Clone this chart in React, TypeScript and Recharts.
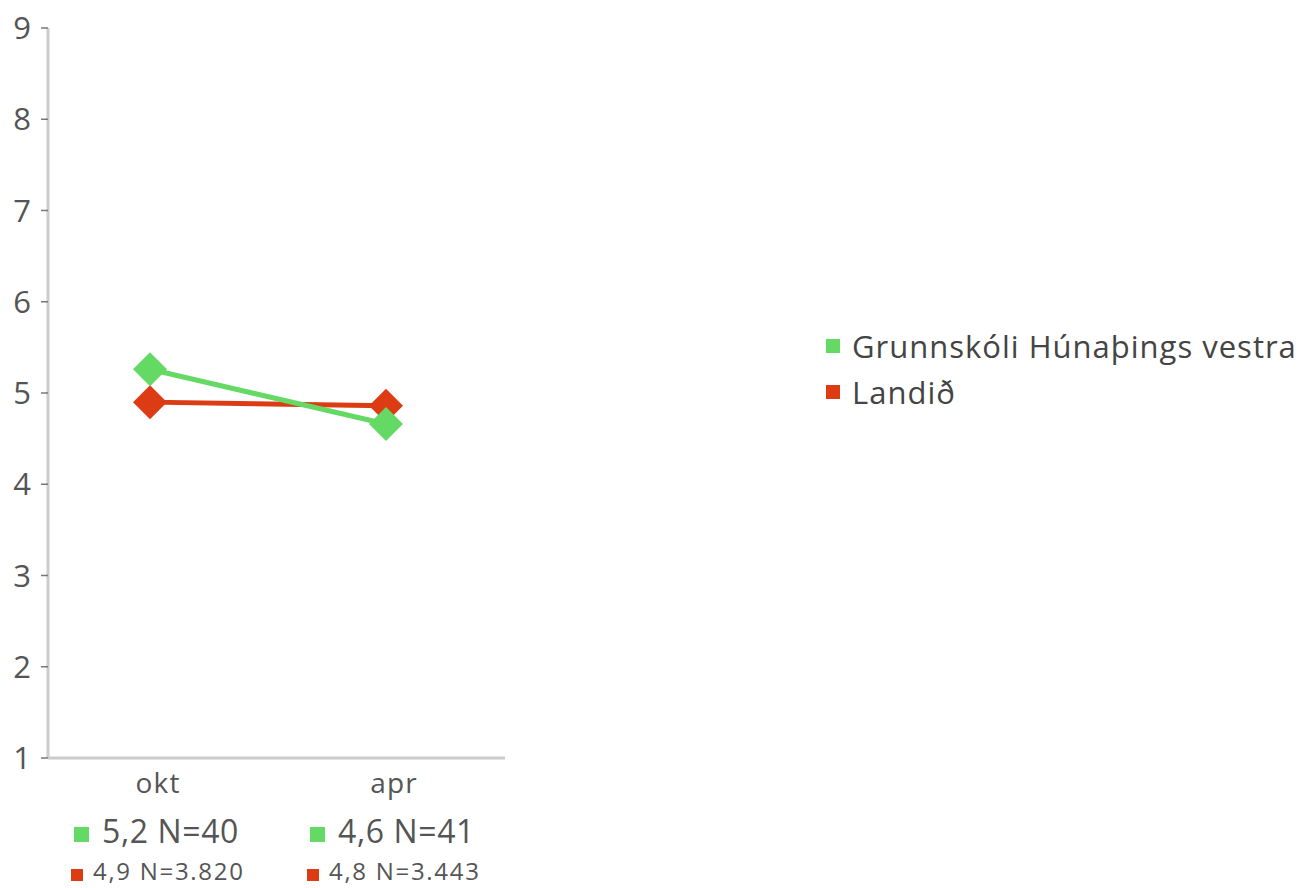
import { LineChart, Line, XAxis, YAxis } from 'recharts';

// survey rounds
const CATEGORIES = ['okt', 'apr'];

// mean score per round
const SCHOOL_VALUES = [5.26, 4.66];
const NATIONAL_VALUES = [4.9, 4.86];

// labels printed under each round
const SCHOOL_MEAN_LABELS = ['5,2', '4,6'];
const SCHOOL_N = ['40', '41'];
const NATIONAL_MEAN_LABELS = ['4,9', '4,8'];
const NATIONAL_N = ['3.820', '3.443'];

const Y_TICKS = [1, 2, 3, 4, 5, 6, 7, 8, 9];

const SCHOOL_NAME = 'Grunnskóli Húnaþings vestra';
const NATIONAL_NAME = 'Landið';

const GREEN = '#64d964';
const RED = '#dc3b14';
const TEXT = '#555555';
const FONT = '"Open Sans", Lato, sans-serif';

const data = CATEGORIES.map((c, i) => ({
    round: c,
    school: SCHOOL_VALUES[i],
    national: NATIONAL_VALUES[i],
}));

function Diamond({ cx, cy, color }: { cx?: number; cy?: number; color: string }) {
    if (cx == null || cy == null) return null;
    const r = 17;
    return (
        <polygon
            points={`${cx},${cy - r} ${cx + r},${cy} ${cx},${cy + r} ${cx - r},${cy}`}
            fill={color}
        />
    );
}

function RoundTick(props: any) {
    const { x, y, payload, index } = props;
    const cx = x + 8;
    return (
        <g transform={`translate(${cx},${y})`} fontFamily={FONT}>
            <text x={0} y={35} textAnchor="middle" fontSize={28} letterSpacing={1.2} fill={TEXT}>
                {payload.value}
            </text>
            <rect x={-84} y={69} width={15} height={15} fill={GREEN} />
            <text x={-56} y={85} fontSize={32} letterSpacing={0.6} fill={TEXT}>
                {`${SCHOOL_MEAN_LABELS[index]} N=${SCHOOL_N[index]}`}
            </text>
            <rect x={-87} y={111} width={12} height={12} fill={RED} />
            <text x={-65} y={122} fontSize={24} letterSpacing={1.7} fill={TEXT}>
                {`${NATIONAL_MEAN_LABELS[index]} N=${NATIONAL_N[index]}`}
            </text>
        </g>
    );
}

const LEGEND = [
    { name: SCHOOL_NAME, color: GREEN },
    { name: NATIONAL_NAME, color: RED },
];

export default function App() {
    return (
        <div style={{ position: 'absolute', left: 0, top: 0, width: 1309, height: 888, background: '#fff' }}>
            <LineChart
                width={520}
                height={888}
                data={data}
                margin={{ top: 28, right: 15, bottom: 0, left: 0 }}
            >
                <XAxis
                    dataKey="round"
                    height={130}
                    padding={{ left: 102, right: 119 }}
                    axisLine={{ stroke: '#cccccc', strokeWidth: 3 }}
                    tickLine={false}
                    tickSize={0}
                    tickMargin={0}
                    tick={<RoundTick />}
                    interval={0}
                />
                <YAxis
                    width={48}
                    domain={[1, 9]}
                    ticks={Y_TICKS}
                    interval={0}
                    axisLine={{ stroke: '#cccccc', strokeWidth: 3 }}
                    tickLine={{ stroke: '#777777', strokeWidth: 1.5 }}
                    tickSize={7}
                    tickMargin={10}
                    tick={{ fill: TEXT, fontSize: 31, fontFamily: FONT }}
                />
                <Line
                    dataKey="national"
                    stroke={RED}
                    strokeWidth={5}
                    isAnimationActive={false}
                    activeDot={false}
                    dot={(p: any) => <Diamond key={`n${p.index}`} cx={p.cx} cy={p.cy} color={RED} />}
                />
                <Line
                    dataKey="school"
                    stroke={GREEN}
                    strokeWidth={5}
                    isAnimationActive={false}
                    activeDot={false}
                    dot={(p: any) => <Diamond key={`s${p.index}`} cx={p.cx} cy={p.cy} color={GREEN} />}
                />
            </LineChart>
            <div style={{ position: 'absolute', left: 826, top: 323, fontFamily: FONT, color: '#444' }}>
                {LEGEND.map((item) => (
                    <div key={item.name} style={{ display: 'flex', alignItems: 'center', height: 46 }}>
                        <span style={{ width: 14, height: 14, background: item.color, marginRight: 12 }} />
                        <span style={{ fontSize: 31, letterSpacing: 1, whiteSpace: 'nowrap' }}>{item.name}</span>
                    </div>
                ))}
            </div>
        </div>
    );
}
